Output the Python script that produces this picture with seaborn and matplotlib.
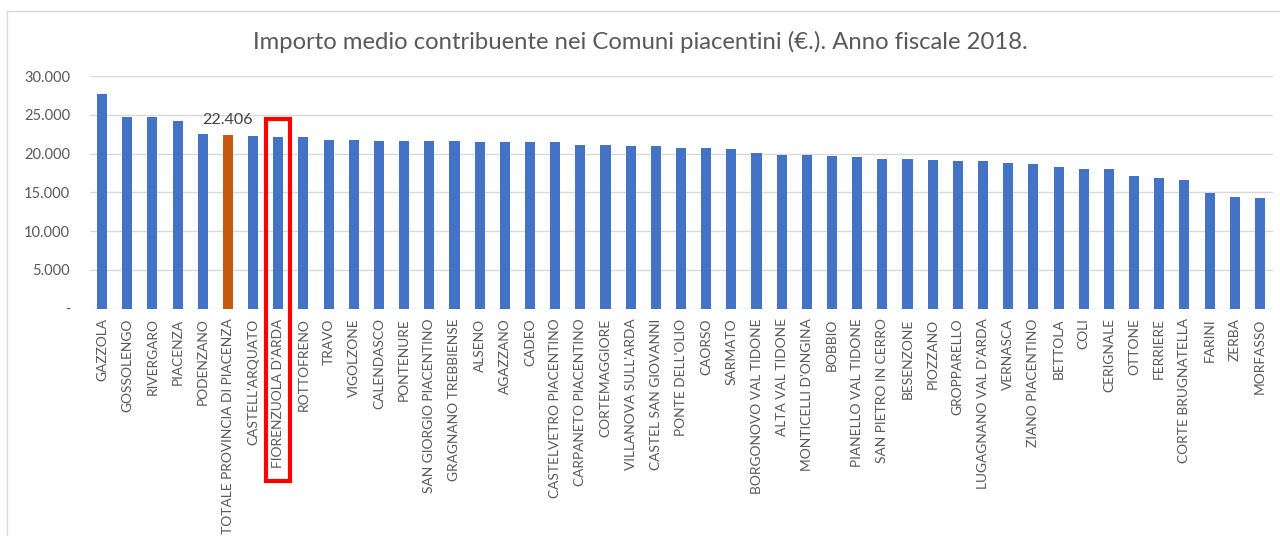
import matplotlib
matplotlib.use("Agg")
import matplotlib.pyplot as plt
import seaborn as sns
import pandas as pd
from matplotlib.patches import Rectangle
from matplotlib.lines import Line2D
from matplotlib.ticker import FuncFormatter

comuni = [
    "GAZZOLA", "GOSSOLENGO", "RIVERGARO", "PIACENZA", "PODENZANO",
    "TOTALE PROVINCIA DI PIACENZA", "CASTELL'ARQUATO", "FIORENZUOLA D'ARDA",
    "ROTTOFRENO", "TRAVO", "VIGOLZONE", "CALENDASCO", "PONTENURE",
    "SAN GIORGIO PIACENTINO", "GRAGNANO TREBBIENSE", "ALSENO", "AGAZZANO",
    "CADEO", "CASTELVETRO PIACENTINO", "CARPANETO PIACENTINO",
    "CORTEMAGGIORE", "VILLANOVA SULL'ARDA", "CASTEL SAN GIOVANNI",
    "PONTE DELL'OLIO", "CAORSO", "SARMATO", "BORGONOVO VAL TIDONE",
    "ALTA VAL TIDONE", "MONTICELLI D'ONGINA", "BOBBIO", "PIANELLO VAL TIDONE",
    "SAN PIETRO IN CERRO", "BESENZONE", "PIOZZANO", "GROPPARELLO",
    "LUGAGNANO VAL D'ARDA", "VERNASCA", "ZIANO PIACENTINO", "BETTOLA", "COLI",
    "CERIGNALE", "OTTONE", "FERRIERE", "CORTE BRUGNATELLA", "FARINI", "ZERBA",
    "MORFASSO",
]
importo = [
    27640, 24670, 24670, 24160, 22480,
    22406, 22300, 22130,
    22130, 21790, 21790, 21620, 21620,
    21620, 21620, 21450, 21450,
    21450, 21450, 21100,
    21100, 20930, 20930,
    20760, 20760, 20550, 20030,
    19850, 19850, 19690, 19510,
    19340, 19340, 19170, 19000,
    19000, 18820, 18650, 18310, 17970,
    17970, 17150, 16810, 16630, 14880, 14360,
    14230,
]
totale_label = "TOTALE PROVINCIA DI PIACENZA"
evidenziato = "FIORENZUOLA D'ARDA"
titolo = "Importo medio contribuente nei Comuni piacentini (€.). Anno fiscale 2018."

BLUE = "#4472C4"
ORANGE = "#C55A11"
TXT = "#595959"
GRID = "#D9D9D9"

df = pd.DataFrame({"comune": comuni, "importo": importo})
palette = {c: (ORANGE if c == totale_label else BLUE) for c in comuni}

sns.set_theme(style="white")
plt.rcParams["font.family"] = ["Lato", "DejaVu Sans"]

fig = plt.figure(figsize=(12.8, 5.36), dpi=100)
ax = fig.add_axes([89.5 / 1280, 1 - 308.7 / 536, (1272.5 - 89.5) / 1280, (308.7 - 76) / 536])

sns.barplot(data=df, x="comune", y="importo", hue="comune", order=comuni,
            palette=palette, legend=False, width=0.4, saturation=1, ax=ax,
            edgecolor="none", zorder=3)

ax.set_xlim(-0.5, len(comuni) - 0.5)
ax.set_ylim(0, 30000)
ax.set_yticks(range(0, 30001, 5000))
ax.yaxis.set_major_formatter(FuncFormatter(
    lambda v, p: "-" if v == 0 else f"{v:,.0f}".replace(",", ".")))
ax.grid(axis="y", color=GRID, linewidth=1, zorder=0)
ax.grid(axis="x", visible=False)
for s in ax.spines.values():
    s.set_visible(False)
ax.set_xlabel("")
ax.set_ylabel("")
ax.tick_params(axis="y", length=0, pad=14, labelsize=10.5, labelcolor=TXT)
ax.tick_params(axis="x", length=0, pad=7, labelsize=9.9, labelcolor=TXT)
ax.set_xticks(range(len(comuni)))
ax.set_xticklabels(comuni, rotation=90, va="top", ha="center")

# data label on provincial total
i_tot = comuni.index(totale_label)
ax.annotate(f"{importo[i_tot]:,.0f}".replace(",", "."), xy=(i_tot, importo[i_tot]),
            xytext=(0, 6), textcoords="offset points", ha="center", va="bottom",
            fontsize=11.5, color="#404040")

# red highlight box around Fiorenzuola
i_fio = comuni.index(evidenziato)
rect = Rectangle((i_fio - 0.48, -22200), 0.96, 24450 + 22200, fill=False,
                 edgecolor="#FF0000", linewidth=3, clip_on=False, zorder=5)
ax.add_patch(rect)

fig.text(0.5, 1 - 42 / 536, titolo, ha="center", va="center", fontsize=17.2, color=TXT)

# chart border
fig.add_artist(Line2D([7 / 1280, 1], [1 - 11 / 536, 1 - 11 / 536], color=GRID, lw=1))
fig.add_artist(Line2D([7 / 1280, 7 / 1280], [0, 1 - 11 / 536], color=GRID, lw=1))

fig.savefig("out.png", dpi=100, facecolor="white")
